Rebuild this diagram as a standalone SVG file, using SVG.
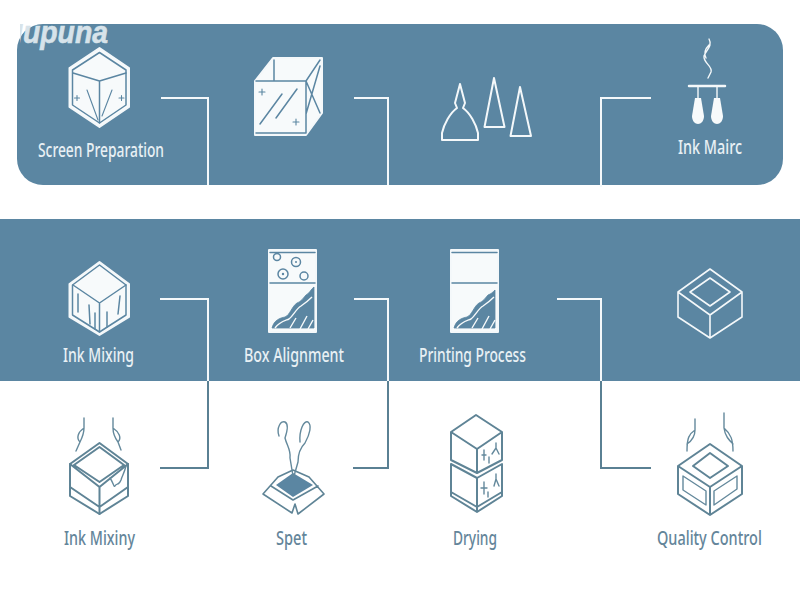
<svg xmlns="http://www.w3.org/2000/svg" width="800" height="600" viewBox="0 0 800 600">
<style>
.w{fill:none;stroke:#f4f8fa;stroke-width:2;stroke-linejoin:round;stroke-linecap:round}
.wt{fill:none;stroke:#f4f8fa;stroke-width:1.400;stroke-linecap:round}
.wf{fill:#f7fafb;stroke:#f4f8fa;stroke-width:2;stroke-linejoin:round}
.b{fill:none;stroke:#5b86a2;stroke-width:1.500;stroke-linejoin:round;stroke-linecap:round}
.bt{fill:none;stroke:#5b86a2;stroke-width:1.100;stroke-linejoin:round;stroke-linecap:round}
.bf{fill:#5b86a2;stroke:#5b86a2;stroke-width:.8;stroke-linejoin:round}
.g{fill:none;stroke:#5f8496;stroke-width:2;stroke-linejoin:round;stroke-linecap:round}
.gt{fill:none;stroke:#64899c;stroke-width:1.400;stroke-linejoin:round;stroke-linecap:round}
.cw{fill:none;stroke:#f4f8fa;stroke-width:2}
.cg{fill:none;stroke:#5a8093;stroke-width:2}
text{font-family:"Noto Sans","Liberation Sans",sans-serif;font-size:20px;font-weight:500}
.lw{fill:#e8f0f4}
.lg{fill:#64859a}
.brand{font-family:"Liberation Sans",Arial,sans-serif;font-weight:700;font-style:italic;font-size:31px;fill:#d7e3ea;stroke:#d7e3ea;stroke-width:.6}
</style>
<defs><clipPath id="panelClip"><rect x="20" y="24" width="766" height="161"/></clipPath></defs>
<rect width="800" height="600" fill="#ffffff"/>
<g id="panels">
<rect x="17" y="24" width="766" height="161" rx="26" fill="#5b86a2"/>
<rect x="0" y="219" width="800" height="162" fill="#5b86a2"/>
</g>
<g id="brand" clip-path="url(#panelClip)"><text class="brand" x="15" y="43" textLength="93" lengthAdjust="spacingAndGlyphs">lupuna</text></g>
<g id="connectors">
<path class="cw" d="M161 98H208V185"/>
<path class="cw" d="M354 98H388V185"/>
<path class="cw" d="M651 98H601V187"/>
<path class="cw" d="M160 299H208V381"/>
<path class="cg" d="M208 381V468H160"/>
<path class="cw" d="M354 299H388V381"/>
<path class="cg" d="M388 381V468H353"/>
<path class="cw" d="M557 299H601V381"/>
<path class="cg" d="M601 381V468H651"/>
</g>
<g id="node-screen-preparation">
<path class="wf" d="M99.500 48L129 68V107L99.500 127L69.500 107V68Z"/>
<path class="b" d="M99.500 52.500L126 70V105L99.500 123L72.500 105V70Z"/>
<path class="b" d="M73 73L99.500 81L126 73M99.500 81V123"/>
<path class="bt" d="M87 90L98 120M112 90L102 116"/>
<path class="bt" d="M74.500 98h5M77 95.500v5M119 98h5M121.500 95.500v5"/>
<text class="lw" x="38" y="157" textLength="126" lengthAdjust="spacingAndGlyphs">Screen Preparation</text>
</g>
<g id="node-box">
<path class="wf" d="M273 58H322V113L306 135H255V81Z"/>
<path class="b" d="M256 81H306V133H256M274 60V80M306 81L320 60M306 81L320 113M320 66L306 114"/>
<path class="b" d="M260 124L282 94M276 118L297 89"/>
<path class="bt" d="M259 92h6M262 89v6M293 122h6M296 119v6"/>
</g>
<g id="node-cones">
<path class="w" d="M460 84L455 103L457 108C450 113 444 124 442 133V140H478V133C476 124 470 113 463 108L465 103Z"/>
<path class="w" d="M494 78L484.500 127H504.500Z"/>
<path class="w" d="M520 87L510.500 136H531Z"/>
</g>
<g id="node-ink-mairc">
<path class="wt" d="M709 39C713 46 706 50 704 56C703 63 713 66 711 72L708 78M709 45C704 50 704 54 706 58"/>
<path class="w" d="M689 86H725" style="stroke-width:2.500"/>
<path class="wt" d="M698 86V98M717 86V98"/>
<path d="M695 98H701L704 116C704 121 701 124 698 124C695 124 692 121 692 116Z" fill="#f7fafb"/>
<path d="M714 98H720L723 116C723 121 720 124 717 124C714 124 711 121 711 116Z" fill="#f7fafb"/>
<text class="lw" x="678" y="154" textLength="64" lengthAdjust="spacingAndGlyphs">Ink Mairc</text>
</g>
<g id="node-ink-mixing">
<path class="wf" d="M99.500 262L129 284V317L99.500 335L69.500 317V284Z"/>
<path class="b" d="M99.500 265L126 285V315L99.500 332L72.500 315V285Z"/>
<path class="b" d="M73 285L99.500 303L126 285M99.500 303V332"/>
<path class="bt" d="M78 294V312M89 305L90 324M95 313V329M107 312V327M120 296L118 314" style="stroke-width:1.500"/>
<text class="lw" x="63" y="362" textLength="71" lengthAdjust="spacingAndGlyphs">Ink Mixing</text>
</g>
<g id="node-box-alignment">
<rect class="wf" x="269" y="250" width="47" height="82"/>
<path class="b" d="M270 252.500H315M270 283H315"/>
<g style="stroke-width:1.700"><circle class="b" cx="277" cy="257" r="3.500"/><circle class="b" cx="296" cy="262" r="4.500"/><circle class="b" cx="283" cy="274" r="5"/><circle class="b" cx="304" cy="276" r="4"/></g>
<circle cx="283" cy="274" r="1.200" fill="#5b86a2"/><circle cx="296" cy="262" r="1" fill="#5b86a2"/>
<path class="bf" d="M272 328C274 320 280 318 285 317C290 315 292 306 297 303C301 302 304 297 306 295C309 294 311 289 314 287V328Z"/>
<path d="M275 328C279 322 284 321 289 319C293 316 296 309 301 306C304 304 308 301 312 297M290 328L296 318M300 329L307 316M308 329L313 320" fill="none" stroke="#f7fafb" stroke-width="1.400"/>
<text class="lw" x="244" y="362" textLength="100" lengthAdjust="spacingAndGlyphs">Box Alignment</text>
</g>
<g id="node-printing-process">
<rect class="wf" x="451" y="250" width="47" height="82"/>
<path class="b" d="M452 252.500H497M452 283H497"/>
<path class="bf" d="M454 328C456 320 462 318 467 317C472 315 474 306 479 303C483 302 486 297 488 295C491 294 493 292 495 290V328Z"/>
<path d="M457 328C461 322 466 321 471 319C475 316 478 309 483 306C486 304 490 301 494 297M472 328L478 318M482 329L489 316M490 329L495 320" fill="none" stroke="#f7fafb" stroke-width="1.400"/>
<text class="lw" x="419" y="362" textLength="107" lengthAdjust="spacingAndGlyphs">Printing Process</text>
</g>
<g id="node-tray">
<path class="w" d="M710 269L742 292V317L710 338L678 317V292ZM678 292L710 315L742 292M710 315V338" style="stroke-width:1.600"/>
<path class="w" d="M710 278L730 292L710 306L690 292Z" style="stroke-width:1.600"/>
</g>
<g id="node-ink-mixiny">
<path class="g" d="M99.500 443L128 464V496L99.500 514L70 496V464Z"/>
<path class="g" d="M99.500 447L124 465L99.500 482L74 465ZM70 464L99.500 487L128 464M99.500 487V514M70 487L99.500 507L128 487"/>
<path class="gt" d="M84 418V428C78 432 76 438 80 442L76 451M84 428C84 434 82 438 80 442"/>
<path class="gt" d="M113 418V428C119 432 122 438 118 442L121 450M113 428C113 434 115 438 118 442"/>
<path class="gt" d="M110 478C113 482 114 488 115 486C117 482 118 487 121 480C122 476 124 474 126 466"/>
<text class="lg" x="64" y="545" textLength="71" lengthAdjust="spacingAndGlyphs">Ink Mixiny</text>
</g>
<g id="node-spet">
<path d="M293 473L313 485L293 497L276 485Z" fill="#5b86a2"/>
<path class="g" d="M278 477L263 494L292 513L295 504L298 514L324 494L309 477M278 477L293 470L309 477M271 486L293 500L318 486" style="stroke-width:1.600"/>
<path class="gt" d="M279 436C276 428 281 420 285 422C289 424 287 432 285 438C287 446 291 450 290 458C291 464 292 470 293 476"/>
<path class="gt" d="M300 442C299 430 304 420 308 422C312 425 310 434 305 443C300 448 298 456 298 462L294 476"/>
<text class="lg" x="276" y="545" textLength="31" lengthAdjust="spacingAndGlyphs">Spet</text>
</g>
<g id="node-drying">
<path class="g" d="M476 415L502 432V460L477 473L451 460V432ZM451 432L477 449L502 432M477 449V473"/>
<path class="g" d="M451 464L477 478L502 464V496L477 512L451 496ZM451 492L477 507L502 492M477 478V512"/>
<path class="gt" d="M484 450V460M482 455H486M489 457V463M496 443V448L492 454M496 448L499 454"/>
<path class="gt" d="M484 482V494M481 488H487M488 492V497M496 474V479L494 486M496 479L499 486"/>
<text class="lg" x="453" y="545" textLength="44" lengthAdjust="spacingAndGlyphs">Drying</text>
</g>
<g id="node-quality-control">
<path class="g" d="M710 444L742 466V494L710 515L678 494V466ZM678 466L710 487L742 466M710 487V515"/>
<path class="g" d="M710 453L728 466L710 478L693 466Z"/>
<path class="gt" d="M683 476L706 491V505L683 490ZM714 491L737 476V489L714 505Z"/>
<path class="gt" d="M695 419V430C689 434 687 438 687 451M695 430C695 436 693 440 687 444"/>
<path class="gt" d="M724 413V428C731 434 733 440 733 451M724 428C725 436 729 440 733 444"/>
<text class="lg" transform="translate(657 545) scale(.8 1)" x="0" y="0" textLength="131" lengthAdjust="spacingAndGlyphs">Quality Control</text>
</g>
</svg>
